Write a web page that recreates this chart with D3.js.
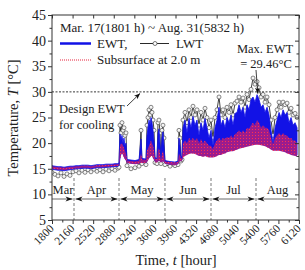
<!DOCTYPE html>
<html>
<head>
<meta charset="utf-8">
<script src="https://cdn.jsdelivr.net/npm/d3@7"></script>
<style>
body { margin: 0; background: #fff; }
text { font-family: "Liberation Serif", "Times New Roman", serif; fill: #222; }
</style>
</head>
<body>
<div id="chart"></div>
<script>
// time on the axis [hour] and the values [°C]
var hours = [1800,1852,1905,1957,2010,2062,2115,2167,
	2220,2272,2325,2377,2430,2482,2535,2587,2640,2692,2745,2797,2850,2902,2954,
	2972,2989,3006,3024,3042,3059,3077,3094,3112,3182,3252,3322,3357,3374,3444,3462,3479,3497,3514,3532,3549,3567,3584,3602,3636,3654,3671,3689,3706,3724,3741,3759,3776,
	3864,3951,4004,4021,4039,4056,4074,
	4091,4126,4161,4196,4231,4266,4301,4336,4371,4406,4441,4476,4511,4546,
	4581,4616,4651,4686,4721,4756,4791,4826,4861,4896,4931,4966,5001,5036,5071,5106,5141,5176,5211,5246,5281,5316,5351,5386,5421,5456,
	5491,5526,5561,5596,5631,5666,5701,5736,5771,5806,5841,5876,5911,5946,5981,6016,6051,6086];

var ewtHigh = [15.6,15.5,15.4,15.4,15.3,15.4,15.5,15.5,
	15.6,15.6,15.7,15.7,15.7,15.6,15.7,15.8,15.8,15.8,15.9,15.9,15.9,16.0,16.0,
	16.1,21.8,20.5,21.5,20.0,21.0,19.5,20.0,16.8,16.7,16.6,16.8,20.8,17.0,16.9,21.5,23.0,24.5,23.5,25.0,24.0,22.5,20.5,17.2,17.0,22.0,22.8,20.0,17.0,21.0,22.2,19.5,16.6,
	16.4,16.3,16.5,21.0,19.5,17.2,17.5,
	23.0,24.5,22.0,24.8,23.0,25.2,23.5,24.5,21.5,24.0,22.5,24.8,23.0,21.0,
	22.5,19.5,23.0,24.5,27.0,23.5,24.5,23.0,25.0,24.0,25.5,23.5,25.8,26.0,27.5,26.0,27.0,25.0,27.5,26.5,28.5,29.0,28.0,29.46,28.5,27.0,
	27.5,26.0,27.0,25.5,22.5,20.0,23.0,24.5,26.0,25.0,26.5,25.5,26.0,24.0,25.0,23.5,24.0,23.0];

var ewtLow = [14.9,14.8,14.7,14.7,14.6,14.7,14.8,14.9,
	15.0,15.0,15.1,15.1,15.1,15.0,15.1,15.2,15.2,15.2,15.3,15.3,15.4,15.4,15.5,
	15.6,17.0,18.0,18.5,18.0,17.5,17.0,16.8,16.2,16.1,16.0,16.1,16.4,16.2,16.2,16.5,17.0,17.5,17.8,18.0,18.0,17.5,17.0,16.5,16.4,16.6,16.8,16.6,16.4,16.5,16.6,16.5,16.1,
	15.9,15.8,16.0,16.6,16.8,16.6,16.8,
	17.5,17.8,18.0,18.2,18.3,18.3,18.2,18.0,17.8,17.8,17.6,17.8,17.6,17.5,
	17.5,17.5,17.6,17.8,18.0,18.0,18.2,18.3,18.5,18.6,18.7,18.7,18.9,19.0,19.2,19.3,19.4,19.5,19.6,19.7,19.8,19.9,20.0,20.0,20.0,19.9,
	19.8,19.7,19.5,19.3,19.0,18.8,18.8,18.8,18.8,18.7,18.6,18.5,18.3,18.2,18.0,17.9,17.8,17.7];

var subHigh = [15.5,15.4,15.3,15.3,15.2,15.3,15.4,15.4,
	15.5,15.5,15.6,15.6,15.6,15.5,15.6,15.7,15.7,15.7,15.8,15.8,15.8,15.9,15.9,
	16.0,19.5,19.8,20.0,19.5,19.0,18.5,18.0,16.6,16.5,16.4,16.6,18.0,16.8,16.7,18.5,19.0,19.5,20.0,20.5,20.0,19.5,18.5,17.0,16.8,18.5,19.0,18.0,16.8,18.0,18.5,17.5,16.4,
	16.3,16.2,16.3,18.0,17.5,17.0,17.2,
	20.0,20.5,20.0,21.0,20.5,21.0,20.5,21.0,20.0,20.8,20.0,20.5,20.0,19.5,
	19.5,18.8,20.0,20.5,21.0,20.5,21.0,20.8,21.2,21.0,21.5,21.0,21.8,22.0,22.5,22.0,22.5,22.0,23.0,22.8,23.5,24.0,23.5,24.5,24.0,23.0,
	23.5,23.0,23.0,22.5,21.0,19.8,21.0,21.5,22.0,21.5,22.0,21.5,21.5,21.0,21.0,20.5,20.5,20.0];

var subLow = [15.0,14.9,14.8,14.8,14.7,14.8,14.9,15.0,
	15.1,15.1,15.2,15.2,15.2,15.1,15.2,15.3,15.3,15.3,15.4,15.4,15.5,15.5,15.6,
	15.7,16.8,17.7,18.0,17.7,17.2,16.8,16.6,16.1,16.0,15.9,16.0,16.2,16.1,16.1,16.3,16.6,17.0,17.2,17.5,17.5,17.0,16.8,16.3,16.2,16.4,16.5,16.4,16.2,16.3,16.4,16.3,16.0,
	15.8,15.7,15.9,16.3,16.5,16.4,16.6,
	17.2,17.5,17.7,17.9,18.0,18.0,17.9,17.7,17.5,17.5,17.3,17.5,17.3,17.2,
	17.2,17.2,17.3,17.5,17.7,17.7,17.9,18.0,18.2,18.3,18.4,18.4,18.6,18.7,18.9,19.0,19.1,19.2,19.3,19.4,19.5,19.6,19.7,19.7,19.7,19.6,
	19.5,19.4,19.2,19.0,18.7,18.5,18.5,18.5,18.5,18.4,18.3,18.2,18.0,17.9,17.7,17.6,17.5,17.4];

var lwt = [14.3,13.9,13.6,14.2,13.5,14.0,13.7,14.4,
	14.6,14.2,14.7,14.3,14.8,14.4,14.9,14.5,14.8,14.4,14.9,14.6,15.0,14.7,15.1,
	15.3,23.5,22.0,24.0,22.5,23.0,21.5,22.0,15.6,15.0,15.2,15.5,22.5,16.0,15.8,23.5,25.0,26.5,25.5,27.0,26.0,24.5,22.5,16.2,16.0,24.0,24.5,22.0,16.0,22.5,23.5,21.0,15.8,
	15.5,15.6,15.8,22.5,21.0,16.5,16.8,
	24.5,26.0,24.0,26.5,25.0,27.2,25.5,26.5,23.5,26.0,24.5,26.8,25.0,23.0,
	24.5,21.0,25.0,26.5,29.0,25.5,26.5,25.0,27.0,26.0,27.5,25.5,27.8,28.2,29.0,28.0,28.8,27.0,29.5,28.5,30.5,32.7,31.5,32.0,30.8,29.0,
	29.5,28.0,29.0,27.5,24.5,21.5,25.0,26.5,28.0,27.0,28.0,27.5,27.8,26.0,26.8,25.5,25.8,25.0];

var xTickValues = [1800,2160,2520,2880,3240,3600,3960,4320,4680,5040,5400,5760,6120];
var xMinorValues = [1980,2340,2700,3060,3420,3780,4140,4500,4860,5220,5580,5940];
var yTickValues = [5,10,15,20,25,30,35,40,45];
var yMinorValues = [7.5,12.5,17.5,22.5,27.5,32.5,37.5,42.5];
var months = ["Mar","Apr","May","Jun","Jul","Aug"];
var monthBounds = [2185,2972,3776,4581,5368];
var designEWT = 30;
var maxEWT = 29.46;

var svg = d3.select("#chart").append("svg")
	.attr("width", 305)
	.attr("height", 270);

var x = d3.scaleLinear().domain([1800, 6120]).range([52, 299]);
var y = d3.scaleLinear().domain([5, 45]).range([220, 15]);

var defs = svg.append("defs");
var pat = defs.append("pattern")
	.attr("id", "reddots")
	.attr("patternUnits", "userSpaceOnUse")
	.attr("width", 3)
	.attr("height", 3);
pat.append("rect").attr("width", 1).attr("height", 1).attr("fill", "#ff3050");

var clip = defs.append("clipPath").attr("id", "plotclip");
clip.append("rect").attr("x", 52).attr("y", 15).attr("width", 247).attr("height", 205);

var idx = d3.range(hours.length);
var plot = svg.append("g").attr("clip-path", "url(#plotclip)");

// LWT first, EWT is drawn over it
var lwtLine = d3.line()
	.x(function(i) { return x(hours[i]); })
	.y(function(i) { return y(lwt[i]); });
plot.append("path")
	.attr("d", lwtLine(idx))
	.attr("fill", "none")
	.attr("stroke", "#111")
	.attr("stroke-width", 0.8);
plot.selectAll(".lwtpt")
	.data(idx)
	.enter().append("circle")
	.attr("class", "lwtpt")
	.attr("cx", function(i) { return x(hours[i]); })
	.attr("cy", function(i) { return y(lwt[i]); })
	.attr("r", 2)
	.attr("fill", "#f4f4f4")
	.attr("stroke", "#555")
	.attr("stroke-width", 0.7);

var ewtArea = d3.area()
	.x(function(i) { return x(hours[i]); })
	.y0(function(i) { return y(ewtLow[i]); })
	.y1(function(i) { return y(ewtHigh[i]); });
plot.append("path")
	.attr("d", ewtArea(idx))
	.attr("fill", "#1212e6")
	.attr("stroke", "#1212e6")
	.attr("stroke-width", 0.8);

// subsurface: purple band with red dots on top
var subArea = d3.area()
	.x(function(i) { return x(hours[i]); })
	.y0(function(i) { return y(subLow[i]); })
	.y1(function(i) { return y(subHigh[i]); });
plot.append("path")
	.attr("d", subArea(idx))
	.attr("fill", "#9a1c8e");
plot.append("path")
	.attr("d", subArea(idx))
	.attr("fill", "url(#reddots)");

// design EWT line
svg.append("line")
	.attr("x1", x(1800)).attr("x2", x(6120))
	.attr("y1", y(designEWT)).attr("y2", y(designEWT))
	.attr("stroke", "#222")
	.attr("stroke-width", 0.9)
	.attr("stroke-dasharray", "2,1.5");

// month separators and arrows
var arrowY = 199;
monthBounds.forEach(function(h) {
	svg.append("line")
		.attr("x1", x(h)).attr("x2", x(h))
		.attr("y1", 178).attr("y2", 220)
		.attr("stroke", "#555")
		.attr("stroke-width", 0.8)
		.attr("stroke-dasharray", "3,2");
});
var edges = [1800].concat(monthBounds).concat([6120]);
function head(px, dir) {
	// dir = 1 points right, -1 points left
	svg.append("path")
		.attr("d", "M" + px + "," + arrowY + "l" + (-7 * dir) + ",-2.6l" + (2 * dir) + ",2.6l" + (-2 * dir) + ",2.6z")
		.attr("fill", "#111");
}
months.forEach(function(m, i) {
	var a = x(edges[i]), b = x(edges[i + 1]);
	var a2 = i == 0 ? a : a + 1.5;
	var b2 = i == months.length - 1 ? b - 2 : b - 1.5;
	svg.append("line")
		.attr("x1", a2).attr("x2", b2)
		.attr("y1", arrowY).attr("y2", arrowY)
		.attr("stroke", "#444")
		.attr("stroke-width", 0.8);
	if (i > 0) head(a2, -1);
	if (i < months.length - 1) head(b2, 1);
	svg.append("text")
		.text(m)
		.attr("x", (a + b) / 2)
		.attr("y", 194)
		.attr("text-anchor", "middle")
		.style("font-size", "12.5px");
});

// axes
function clean(g) { g.select(".domain").remove(); g.selectAll("line").attr("stroke", "#333"); }
svg.append("g").attr("transform", "translate(0,220)")
	.call(d3.axisBottom(x).tickValues(xTickValues).tickSize(4).tickFormat(d3.format("d")))
	.call(clean)
	.call(function(g) {
		g.selectAll("text")
			.attr("x", -5).attr("y", 8).attr("dy", 0)
			.attr("transform", "rotate(-45)")
			.style("text-anchor", "end")
			.style("font-size", "11.5px")
			.style("font-family", "Liberation Serif, serif");
	});
svg.append("g").attr("transform", "translate(0,220)")
	.call(d3.axisBottom(x).tickValues(xMinorValues).tickSize(2.5).tickFormat(""))
	.call(clean);
svg.append("g").attr("transform", "translate(0,15)")
	.call(d3.axisBottom(x).tickValues(xTickValues).tickSize(3.5).tickFormat(""))
	.call(clean);
svg.append("g").attr("transform", "translate(52,0)")
	.call(d3.axisLeft(y).tickValues(yTickValues).tickSize(4).tickPadding(2))
	.call(clean)
	.call(function(g) {
		g.selectAll("text").style("font-size", "14px").style("font-family", "Liberation Serif, serif");
	});
svg.append("g").attr("transform", "translate(52,0)")
	.call(d3.axisLeft(y).tickValues(yMinorValues).tickSize(2.5).tickFormat(""))
	.call(clean);
svg.append("g").attr("transform", "translate(299,0)")
	.call(d3.axisLeft(y).tickValues(yTickValues).tickSize(4).tickFormat(""))
	.call(clean);
svg.append("g").attr("transform", "translate(299,0)")
	.call(d3.axisLeft(y).tickValues(yMinorValues).tickSize(2.5).tickFormat(""))
	.call(clean);

svg.append("rect")
	.attr("x", 52).attr("y", 15).attr("width", 247).attr("height", 205)
	.attr("fill", "none")
	.attr("stroke", "#333")
	.attr("stroke-width", 1);

// legend
svg.append("text").text("Mar. 17(1801 h) ~ Aug. 31(5832 h)")
	.attr("x", 60).attr("y", 32).style("font-size", "13px");
svg.append("line").attr("x1", 60).attr("x2", 91).attr("y1", 43.5).attr("y2", 43.5)
	.attr("stroke", "#1212e6").attr("stroke-width", 2.5);
svg.append("text").text("EWT,").attr("x", 97).attr("y", 47.5).style("font-size", "13px");
svg.append("line").attr("x1", 140).attr("x2", 169).attr("y1", 43.5).attr("y2", 43.5)
	.attr("stroke", "#111").attr("stroke-width", 0.9);
svg.append("circle").attr("cx", 155).attr("cy", 43.5).attr("r", 2)
	.attr("fill", "#fff").attr("stroke", "#555").attr("stroke-width", 0.8);
svg.append("text").text("LWT").attr("x", 176).attr("y", 47.5).style("font-size", "13px");
svg.append("line").attr("x1", 60).attr("x2", 91).attr("y1", 60).attr("y2", 60)
	.attr("stroke", "#e8203a").attr("stroke-width", 1).attr("stroke-dasharray", "1,1");
svg.append("text").text("Subsurface at 2.0 m").attr("x", 97).attr("y", 64).style("font-size", "13px");

// annotations
function arrow(x1, y1, x2, y2) {
	svg.append("line").attr("x1", x1).attr("y1", y1).attr("x2", x2).attr("y2", y2)
		.attr("stroke", "#111").attr("stroke-width", 0.8);
	var ang = Math.atan2(y2 - y1, x2 - x1) * 180 / Math.PI;
	svg.append("path")
		.attr("d", "M0,0L-6,-2.4L-4.5,0L-6,2.4Z")
		.attr("transform", "translate(" + x2 + "," + y2 + ") rotate(" + ang + ")")
		.attr("fill", "#111");
}
svg.append("text").text("Design EWT").attr("x", 59).attr("y", 113).style("font-size", "12.5px");
svg.append("text").text("for cooling").attr("x", 59).attr("y", 129).style("font-size", "12.5px");
arrow(127, 106, x(3340), y(designEWT) + 1.5);

svg.append("text").text("Max. EWT").attr("x", 265).attr("y", 53)
	.attr("text-anchor", "middle").style("font-size", "12.5px");
svg.append("text").text("= 29.46\u00b0C").attr("x", 266).attr("y", 68)
	.attr("text-anchor", "middle").style("font-size", "12.5px");
arrow(256, 70, x(5400), y(maxEWT) - 1);

// axis titles
var yl = svg.append("text")
	.attr("transform", "translate(18,118) rotate(-90)")
	.attr("text-anchor", "middle")
	.style("font-size", "14.5px");
yl.append("tspan").text("Temperature, ");
yl.append("tspan").text("T").style("font-style", "italic");
yl.append("tspan").text(" [\u00b0C]");

var xl = svg.append("text")
	.attr("x", 176).attr("y", 265)
	.attr("text-anchor", "middle")
	.style("font-size", "14.5px");
xl.append("tspan").text("Time, ");
xl.append("tspan").text("t").style("font-style", "italic");
xl.append("tspan").text(" [hour]");
</script>
</body>
</html>
